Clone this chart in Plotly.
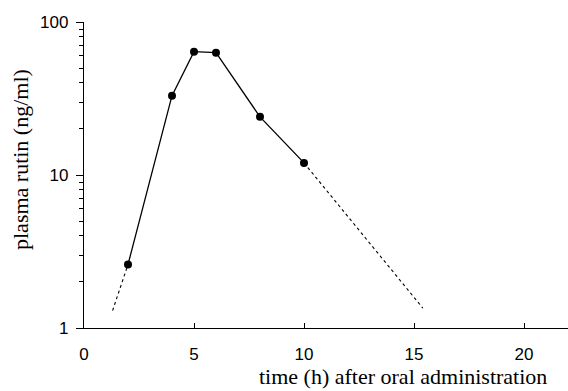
import plotly.graph_objects as go

# Data
time_h = [2, 4, 5, 6, 8, 10]
rutin_ng_ml = [2.6, 33, 64, 63, 24, 12]

# Dashed extrapolations
absorb_x = [1.3, 2]
absorb_y = [1.3, 2.6]
elim_x = [10, 15.4]
elim_y = [12, 1.35]

x_ticks = [0, 5, 10, 15, 20]
y_ticks = [1, 10, 100]
y_minor = [2, 3, 4, 5, 6, 7, 8, 9, 20, 30, 40, 50, 60, 70, 80, 90]

all_y = sorted(y_ticks + y_minor)
all_text = [str(v) if v in y_ticks else "" for v in all_y]

fig = go.Figure()
fig.add_trace(go.Scatter(x=absorb_x, y=absorb_y, mode="lines",
                         line=dict(color="black", width=1.1, dash="3px,3px"),
                         showlegend=False, hoverinfo="skip"))
fig.add_trace(go.Scatter(x=elim_x, y=elim_y, mode="lines",
                         line=dict(color="black", width=1.1, dash="3px,3px"),
                         showlegend=False, hoverinfo="skip"))
fig.add_trace(go.Scatter(x=time_h, y=rutin_ng_ml, mode="lines+markers",
                         line=dict(color="black", width=1.3),
                         marker=dict(color="black", size=8),
                         showlegend=False))
# invisible trace carrying the long major-tick axis
fig.add_trace(go.Scatter(x=time_h, y=rutin_ng_ml, yaxis="y2",
                         mode="markers", marker=dict(opacity=0),
                         showlegend=False, hoverinfo="skip"))

fig.update_layout(
    width=568, height=391,
    margin=dict(l=84, r=0, t=22, b=63),
    paper_bgcolor="white", plot_bgcolor="white",
    font=dict(family="Liberation Sans, Arial, sans-serif", size=17, color="black"),
    xaxis=dict(range=[0, 22], tickvals=x_ticks, ticktext=[str(v) for v in x_ticks],
               ticks="inside", ticklen=5, tickwidth=1, tickcolor="black",
               showline=True, linecolor="black", linewidth=1.3,
               showgrid=False, zeroline=False, ticklabelstandoff=10),
    yaxis=dict(type="log", range=[0, 2], tickmode="array", tickvals=all_y,
               ticktext=all_text,
               ticks="outside", ticklen=4, tickwidth=1, tickcolor="black",
               showline=True, linecolor="black", linewidth=1.3,
               showgrid=False, zeroline=False, ticklabelstandoff=7),
    yaxis2=dict(type="log", range=[0, 2], overlaying="y", side="left",
                anchor="x", tickmode="array", tickvals=y_ticks, showticklabels=False,
                ticks="outside", ticklen=7, tickwidth=1, tickcolor="black",
                showline=False, showgrid=False, zeroline=False),
    annotations=[
        dict(text="time (h) after oral administration", xref="paper", yref="paper",
             x=(403 - 84) / 484, y=-(377 - 328) / 306, xanchor="center", yanchor="middle",
             showarrow=False,
             font=dict(family="Liberation Serif, Times New Roman, serif", size=22)),
        dict(text="plasma rutin (ng/ml)", xref="paper", yref="paper",
             x=-(84 - 21) / 484, y=(328 - 160) / 306, xanchor="center", yanchor="middle",
             textangle=-90, showarrow=False,
             font=dict(family="Liberation Serif, Times New Roman, serif", size=22)),
    ],
)

fig.write_html("out.html")
